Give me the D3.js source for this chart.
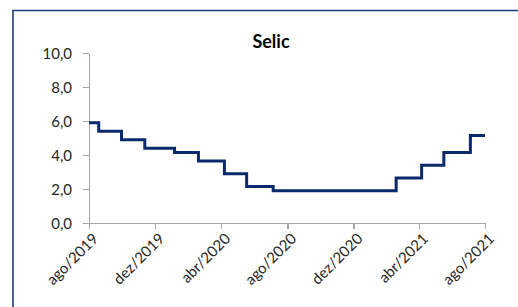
<!DOCTYPE html>
<html>
  <head>
    <meta charset="utf-8">
    <script src="https://cdn.jsdelivr.net/npm/d3@7"></script>
    <style type="text/css">
      html, body { margin: 0; background: #fff; overflow: hidden; }
      svg { display: block; }
      .axis path, .axis line { fill: none; stroke: #a6a6a6; stroke-width: 1.5px; shape-rendering: crispEdges; }
      .axis text { font-family: Lato, sans-serif; font-size: 15px; fill: #262626; }
      .line { fill: none; stroke: #0b2a6b; stroke-width: 3px; }
      .frame { fill: none; stroke: #1f3c7a; stroke-width: 1.6px; }
    </style>
  </head>
  <body>
    <div class="plot_canvas"></div>
    <script>
    // Selic effective rate (% a.a.), value valid from each date
    var stepDates = ["2019-08-01", "2019-08-19", "2019-09-30", "2019-11-12", "2020-01-06",
                     "2020-02-19", "2020-04-07", "2020-05-18", "2020-07-06", "2021-02-18",
                     "2021-04-06", "2021-05-17", "2021-07-05", "2021-08-01"];
    var stepValues = [5.90, 5.40, 4.90, 4.40, 4.15, 3.65, 2.90, 2.15, 1.90, 2.65, 3.40, 4.15, 5.15, 5.15];
    var tickDates = ["2019-08-01", "2019-12-01", "2020-04-01", "2020-08-01", "2020-12-01", "2021-04-01", "2021-08-01"];
    var tickLabels = ["ago/2019", "dez/2019", "abr/2020", "ago/2020", "dez/2020", "abr/2021", "ago/2021"];
    var yTicks = [0, 2, 4, 6, 8, 10];

    var W = 518, H = 307;
    var margin = {top: 53, right: 33, bottom: 84, left: 89};

    var parse = d3.timeParse("%Y-%m-%d");
    var series = stepDates.map(function(d, i) { return {date: parse(d), value: stepValues[i]}; });

    var xScale = d3.scaleTime()
      .domain([parse(tickDates[0]), parse(tickDates[tickDates.length - 1])])
      .range([margin.left, W - margin.right]);

    var yScale = d3.scaleLinear()
      .domain([0, 10])
      .range([H - margin.bottom, margin.top]);

    var svg = d3.select(".plot_canvas")
      .append("svg")
      .attr("width", W)
      .attr("height", H);

    // chart frame: only top and left edges are inside the picture
    svg.append("path")
      .attr("class", "frame")
      .attr("d", "M13," + (H + 5) + "V10.5H" + (W + 5));

    svg.append("text")
      .attr("x", 271).attr("y", 48)
      .attr("text-anchor", "middle")
      .style("font-family", "Lato, sans-serif")
      .style("font-weight", "bold")
      .style("font-size", "18px")
      .attr("fill", "#000")
      .text("Selic");

    var yAxis = d3.axisLeft(yScale)
      .tickValues(yTicks)
      .tickSize(6)
      .tickPadding(11)
      .tickSizeOuter(0)
      .tickFormat(function(d) { return d3.format(".1f")(d).replace(".", ","); });

    svg.append("g")
      .attr("class", "axis")
      .attr("transform", "translate(" + margin.left + ",0)")
      .call(yAxis)
      .selectAll("text")
      .attr("dy", "0.35em");

    var xAxis = d3.axisBottom(xScale)
      .tickValues(tickDates.map(parse))
      .tickSize(6)
      .tickSizeOuter(0)
      .tickFormat(function(d, i) { return tickLabels[i]; });

    svg.append("g")
      .attr("class", "axis")
      .attr("transform", "translate(0," + yScale(0) + ")")
      .call(xAxis)
      .selectAll("text")
      .attr("text-anchor", "end")
      .attr("transform", "translate(6,13) rotate(-45)")
      .attr("x", 0)
      .attr("y", 0)
      .attr("dy", "0.35em");

    var line = d3.line()
      .curve(d3.curveStepAfter)
      .x(function(d) { return xScale(d.date); })
      .y(function(d) { return yScale(d.value); });

    svg.append("path")
      .attr("class", "line")
      .attr("d", line(series));
    </script>
  </body>
</html>
